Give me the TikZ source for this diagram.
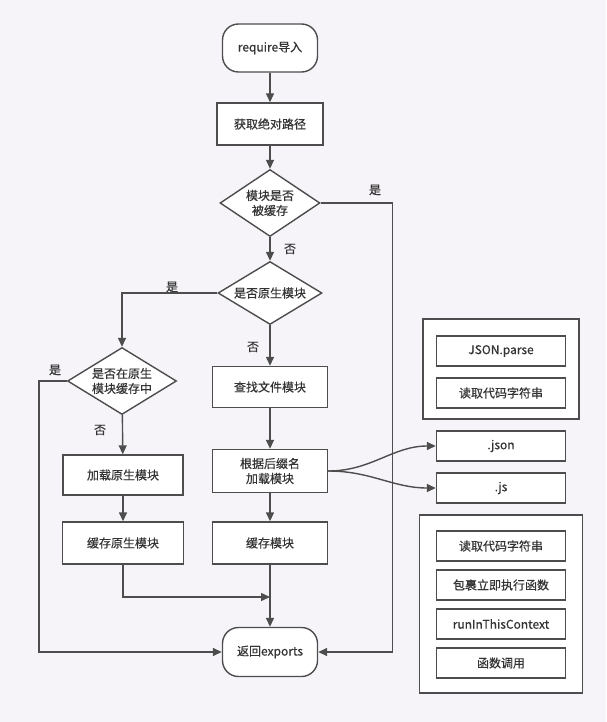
\documentclass[tikz,border=0pt]{standalone}
\usepackage{fontspec}
\setmainfont{Noto Sans CJK SC}[FakeBold=0.5]
\usetikzlibrary{arrows.meta,shapes.geometric}
\definecolor{bg}{RGB}{246,244,249}
\definecolor{ln}{RGB}{77,77,77}
\definecolor{tx}{RGB}{51,51,51}

\tikzset{
	box/.style={draw=ln, line width=1.4pt, fill=white, text=tx, minimum width=115pt, minimum height=41pt, inner sep=2pt, align=center},
	term/.style={box, rounded corners=16pt, minimum width=95pt, minimum height=48pt},
	ques/.style={diamond, draw=ln, line width=1.4pt, fill=white, text=tx, aspect=1.5, inner sep=0pt, align=center},
	small/.style={box, minimum width=129pt, minimum height=30pt},
	group/.style={draw=ln, line width=1.4pt, fill=white},
	arr/.style={-{Triangle[length=9pt,width=8pt]}, draw=ln, line width=1.4pt},
	lbl/.style={text=tx}
}

\begin{document}
\begin{tikzpicture}[x=1pt, y=-1pt, font=\fontsize{12pt}{15pt}\selectfont]
				\path[use as bounding box, fill=bg] (0,0) rectangle (606,722);
				
				% main column
				\node[term] (d1) at (270,48) {require导入};
				\node[box, minimum width=106pt, minimum height=42pt] (d2) at (270,124) {获取绝对路径};
				\node[ques, minimum width=100pt, minimum height=67pt] (d3) at (270,203) {模块是否\\被缓存};
				\node[ques, minimum width=104pt, minimum height=63pt] (d4) at (270,293) {是否原生模块};
				\node[box] (d6) at (270,387) {查找文件模块};
				\node[box, minimum height=43pt] (d7) at (270,471) {根据后缀名\\加载模块};
				\node[box, minimum height=42pt] (d8) at (270,543) {缓存模块};
				\node[term, minimum height=49pt] (d15) at (270,652) {返回exports};
				
				% native module column
				\node[ques, minimum width=109pt, minimum height=67pt] (d5) at (122,381) {是否在原生\\模块缓存中};
				\node[box, minimum width=120pt, minimum height=40pt] (d9) at (123,475) {加载原生模块};
				\node[box, minimum width=121pt, minimum height=42pt] (d10) at (123,543) {缓存原生模块};
				\coordinate (m1) at (270,597);
				
				% right side
				\node[group, minimum width=156pt, minimum height=100pt] (g1) at (501,369) {};
				\node[small] (d11) at (501,351) {JSON.parse};
				\node[small] (d12) at (501,393) {读取代码字符串};
				\node[small] (d13) at (501,446) {.json};
				\node[small] (d14) at (501,488) {.js};
				\node[group, minimum width=163pt, minimum height=178pt] (g2) at (501,604) {};
				\node[small] (d16) at (501,546) {读取代码字符串};
				\node[small] (d17) at (501,585) {包裹立即执行函数};
				\node[small] (d18) at (501,624) {runInThisContext};
				\node[small] (d19) at (501,663) {函数调用};
				
				% labels
				\node[lbl] (l1) at (375,190) {是};
				\node[lbl] (l2) at (290,249) {否};
				\node[lbl] (l3) at (172,287) {是};
				\node[lbl] (l4) at (253,347) {否};
				\node[lbl] (l5) at (55,370) {是};
				\node[lbl] (l6) at (100,430) {否};
				
				\draw[arr] (d1) -- (d2);
				\draw[arr] (d2) -- (d3);
				\draw[arr] (d3) -- (d4);
				\draw[arr] (d4) -- (d6);
				\draw[arr] (d6) -- (d7);
				\draw[arr] (d7) -- (d8);
				\draw[arr] (d8) -- (d15);
				
				\draw[arr] (d4.west) -| (d5.north);
				\draw[arr] (d5) -- (d9);
				\draw[arr] (d9) -- (d10);
				\draw[arr] (d10.south) |- (m1);
				
				\draw[arr] (d5.west) -- ++(-28,0) |- (d15.west);
				\draw[arr] (d3.east) -- ++(72,0) |- (d15.east);
				
				\draw[arr] (d7.east) to[out=0, in=180] (d13.west);
				\draw[arr] (d7.east) to[out=0, in=180] (d14.west);
\end{tikzpicture}
\end{document}
